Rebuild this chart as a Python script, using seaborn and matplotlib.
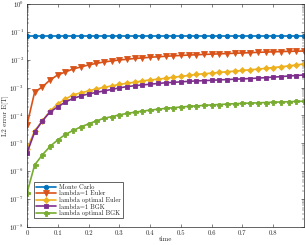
import numpy as np
import pandas as pd
import matplotlib
matplotlib.use("Agg")
import matplotlib.pyplot as plt
import seaborn as sns
from matplotlib.ticker import LogLocator, FixedLocator, NullFormatter

time = [round(0.025 * i, 3) for i in range(37)]

monte_carlo = [0.072] * 37
euler_1 = [4.6e-5, 7.0e-4, 1.06e-3, 1.89e-3, 2.85e-3, 3.65e-3, 4.68e-3, 5.5e-3, 6.5e-3,
           7.4e-3, 8.3e-3, 9.06e-3, 9.8e-3, 1.04e-2, 1.11e-2, 1.16e-2, 1.23e-2, 1.28e-2,
           1.33e-2, 1.38e-2, 1.43e-2, 1.47e-2, 1.51e-2, 1.55e-2, 1.59e-2, 1.63e-2, 1.67e-2,
           1.71e-2, 1.75e-2, 1.80e-2, 1.84e-2, 1.89e-2, 1.92e-2, 1.97e-2, 2.00e-2, 2.03e-2, 2.06e-2]
euler_opt = [6.35e-6, 2.8e-5, 6.4e-5, 1.46e-4, 2.6e-4, 3.9e-4, 5.5e-4, 6.5e-4, 7.6e-4,
             9.0e-4, 1.02e-3, 1.15e-3, 1.30e-3, 1.44e-3, 1.56e-3, 1.74e-3, 1.89e-3, 2.0e-3,
             2.17e-3, 2.36e-3, 2.52e-3, 2.74e-3, 2.97e-3, 3.15e-3, 3.31e-3, 3.51e-3, 3.72e-3,
             3.90e-3, 4.13e-3, 4.38e-3, 4.60e-3, 4.92e-3, 5.25e-3, 5.61e-3, 6.0e-3, 6.5e-3, 7.1e-3]
bgk_1 = [4.56e-6, 2.58e-5, 6.4e-5, 1.35e-4, 2.03e-4, 3.07e-4, 4.1e-4, 5.04e-4, 5.94e-4,
         6.73e-4, 7.6e-4, 8.6e-4, 9.75e-4, 1.09e-3, 1.17e-3, 1.25e-3, 1.32e-3, 1.41e-3,
         1.49e-3, 1.55e-3, 1.61e-3, 1.68e-3, 1.74e-3, 1.78e-3, 1.84e-3, 1.89e-3, 1.95e-3,
         2.0e-3, 2.05e-3, 2.12e-3, 2.19e-3, 2.28e-3, 2.38e-3, 2.48e-3, 2.61e-3, 2.72e-3, 2.85e-3]
bgk_opt = [1.68e-7, 1.69e-6, 3.87e-6, 7.8e-6, 1.33e-5, 2.10e-5, 2.92e-5, 3.9e-5, 5.0e-5,
           6.4e-5, 7.9e-5, 9.1e-5, 1.05e-4, 1.19e-4, 1.31e-4, 1.44e-4, 1.56e-4, 1.68e-4,
           1.80e-4, 1.90e-4, 2.02e-4, 2.12e-4, 2.21e-4, 2.30e-4, 2.40e-4, 2.48e-4, 2.56e-4,
           2.65e-4, 2.72e-4, 2.78e-4, 2.85e-4, 2.92e-4, 3.0e-4, 3.05e-4, 3.12e-4, 3.2e-4, 3.26e-4]

labels = ["Monte Carlo", "lambda=1 Euler", "lambda optimal Euler",
          "lambda=1 BGK", "lambda optimal BGK"]
series = [monte_carlo, euler_1, euler_opt, bgk_1, bgk_opt]
colors = ["#0072BD", "#D95319", "#EDB120", "#7E2F8E", "#77AC30"]
markers = ["o", "v", "D", "s", "P"]
msizes = [3.2, 4.2, 3.0, 2.8, 3.6]

sns.set_style("ticks")
plt.rcParams["font.family"] = ["cmr10", "DejaVu Serif"]
plt.rcParams["mathtext.fontset"] = "cm"
plt.rcParams["axes.formatter.use_mathtext"] = True
plt.rcParams["axes.unicode_minus"] = False

fig = plt.figure(figsize=(3.05, 2.45), dpi=100)
ax = fig.add_axes([27 / 305, 1 - 227 / 245, 277 / 305, 223 / 245])

for lab, vals, c, m, ms in zip(labels, series, colors, markers, msizes):
    df = pd.DataFrame({"time": time, "err": vals})
    sns.lineplot(data=df, x="time", y="err", ax=ax, color=c, marker=m,
                 markersize=ms, markeredgecolor=c, markeredgewidth=0.6,
                 linewidth=1.2, label=lab, clip_on=True)

ax.set_yscale("log")
ax.set_ylim(1e-8, 1)
ax.set_xlim(0, 0.9)
ax.xaxis.set_major_locator(FixedLocator([0, 0.1, 0.2, 0.3, 0.4, 0.5, 0.6, 0.7, 0.8]))
ax.set_xticklabels(["0", "0.1", "0.2", "0.3", "0.4", "0.5", "0.6", "0.7", "0.8"])
ax.yaxis.set_major_locator(LogLocator(base=10, numticks=20))
ax.yaxis.set_minor_locator(LogLocator(base=10, subs=np.arange(2, 10), numticks=20))
ax.yaxis.set_minor_formatter(NullFormatter())

ax.tick_params(axis="both", which="major", direction="in", length=2.5, width=0.4,
               labelsize=4.8, top=True, right=True, pad=2, colors="#262626")
ax.tick_params(axis="both", which="minor", direction="in", length=1.3, width=0.3,
               top=True, right=True)
for s in ax.spines.values():
    s.set_linewidth(0.5)
    s.set_color("#262626")
    s.set_visible(True)

ax.set_xlabel("time", fontsize=5, labelpad=0.5)
ax.set_ylabel("L2 error E[T]", fontsize=5, labelpad=1)

leg = ax.legend(loc="lower left", bbox_to_anchor=(0.025, 0.04), fontsize=4.6,
                frameon=True, fancybox=False, edgecolor="#262626", framealpha=1,
                handlelength=3.2, handletextpad=0.4, borderpad=0.3, labelspacing=0.1,
                borderaxespad=0)
leg.get_frame().set_linewidth(0.5)

fig.savefig("out.png", dpi=100)
